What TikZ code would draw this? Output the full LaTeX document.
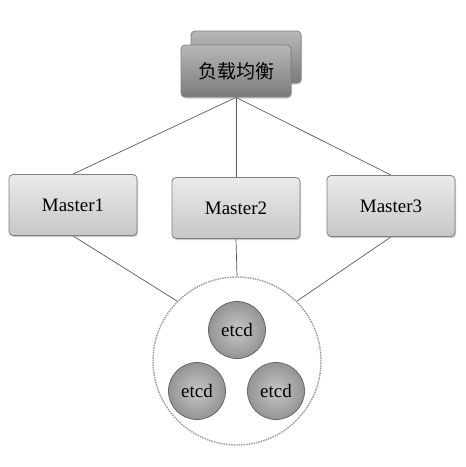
\documentclass[tikz,border=0pt]{standalone}
\usepackage{fontspec}
\setmainfont{Liberation Serif}
\newfontfamily\cjk{Noto Sans CJK SC}
\usetikzlibrary{shadows,backgrounds}
\begin{document}
\begin{tikzpicture}[x=1pt,y=-1pt,
  link/.style={draw=black!65,line width=0.7pt},
  lbbox/.style={draw=black!50,line width=0.8pt,rounded corners=4pt,
    top color=black!28,bottom color=black!52,minimum width=110pt,minimum height=52pt,
    drop shadow={shadow xshift=1pt,shadow yshift=-1.5pt,opacity=0.4},font=\cjk\fontsize{19}{22}\selectfont},
  mbox/.style={draw=black!50,line width=0.8pt,rounded corners=4pt,
    top color=black!8,bottom color=black!22,minimum width=128pt,minimum height=61pt,
    drop shadow={shadow xshift=1pt,shadow yshift=-1.5pt,opacity=0.4},font=\fontsize{19}{22}\selectfont},
  ecirc/.style={circle,draw=black!60,line width=0.8pt,inner color=black!22,outer color=black!42,
    minimum size=57pt,inner sep=0pt,font=\fontsize{19}{22}\selectfont},
  cluster/.style={circle,draw=black!40,line width=1.4pt,dash pattern=on 1.5pt off 1pt,fill=white,
    minimum size=168pt,inner sep=0pt}]
\useasboundingbox (0,0) rectangle (466,467);
% nodes
\node[lbbox] (lbback) at (246,57) {};
\node[lbbox] (lb) at (236,71) {负载均衡};
\node[mbox] (m1) at (73,205) {Master1};
\node[mbox] (m2) at (236,208) {Master2};
\node[mbox] (m3) at (391,206) {Master3};
\node[cluster] (cl) at (237,361) {};
\node[ecirc] (e1) at (237,330) {etcd};
\node[ecirc] (e2) at (197,391) {etcd};
\node[ecirc] (e3) at (276,391) {etcd};
% connectors
\begin{scope}[on background layer]
\draw[link] (lb.south) -- (m1.north);
\draw[link] (lb.south) -- (m2.north);
\draw[link] (lb.south) -- (m3.north);
\draw[link] (m1.south) -- (cl.135);
\draw[link] (m2.south) -- (cl.north);
\draw[link] (m3.south) -- (cl.45);
\end{scope}
\end{tikzpicture}
\end{document}
